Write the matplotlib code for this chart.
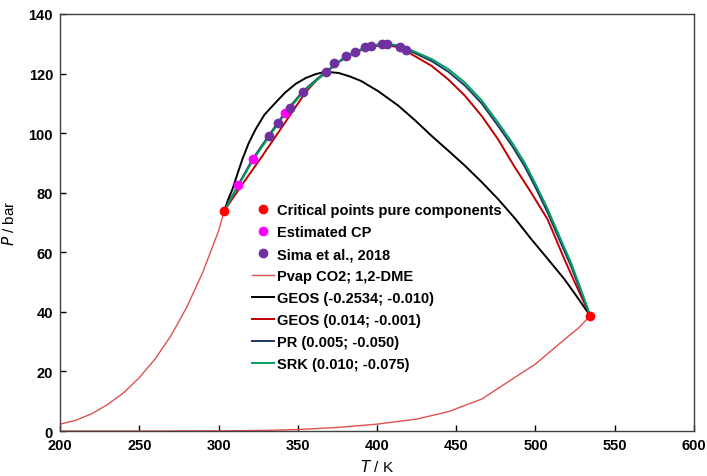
import matplotlib.pyplot as plt
from matplotlib.ticker import MultipleLocator

plt.rcParams['font.family'] = ['Liberation Sans', 'DejaVu Sans']

# critical points of the pure components (CO2, 1,2-DME)
crit_T = [303.6, 534.5]
crit_P = [73.95, 38.7]

# estimated critical points
est_T = [312.6, 321.8, 341.9]
est_P = [82.6, 91.3, 106.7]

# Sima et al., 2018
sima_T = [332.0, 337.5, 345.0, 353.0, 368.0, 373.0, 380.5, 386.0, 392.5, 396.0, 403.0, 406.5, 414.5, 418.0]
sima_P = [99.1, 103.4, 108.3, 113.7, 120.4, 123.5, 125.9, 127.3, 128.9, 129.2, 129.9, 129.9, 128.8, 128.0]

# vapour pressures
co2_T = [200, 210, 220, 230, 240, 250, 260, 270, 280, 290, 300, 303.6]
co2_P = [2.3, 3.6, 5.8, 8.9, 12.8, 17.9, 24.2, 32.0, 41.6, 53.2, 67.1, 73.95]
dme_T = [200, 250, 300, 330, 350, 375, 400, 425, 445, 466, 487, 500, 510, 520, 527, 534.5]
dme_P = [0, 0, 0.05, 0.2, 0.5, 1.2, 2.3, 4.0, 6.5, 10.7, 18.0, 22.5, 27.0, 31.5, 34.5, 38.7]

# GEOS (-0.2534; -0.010)
geos1_T = [303.6, 306, 308.8, 312, 315.1, 319, 323.5, 329, 336.1, 342, 348.6, 355, 361.2, 367.5, 375.8,
           383, 390, 401, 413.5, 424, 434.4, 445, 455.4, 466, 476.3, 487, 497.2, 508, 518.2, 526, 534.5]
geos1_P = [73.95, 77.6, 81.2, 86.4, 91.3, 96.6, 101.4, 106.2, 110.3, 113.6, 116.5, 118.5, 119.8, 120.6, 120.2,
           119.0, 117.5, 114.0, 109.2, 104.3, 99.1, 94.1, 89.1, 83.6, 77.9, 71.4, 64.5, 57.6, 51.0, 45.2, 38.7]

# GEOS (0.014; -0.001)
geos2_T = [303.6, 315, 327.7, 340, 354.9, 362, 368, 375, 385, 393, 400, 406, 412, 419.8,
           434.4, 445, 455.4, 466, 476.3, 487, 497.2, 507.7, 518.2, 526, 534.5]
geos2_P = [73.95, 82.8, 92.4, 102.0, 113.7, 117.8, 120.5, 123.6, 126.8, 128.5, 129.3, 129.5, 129.0, 127.1,
           122.6, 118.0, 112.6, 105.8, 98.0, 88.5, 80.1, 71.0, 57.7, 48.5, 38.7]

# PR and SRK
eos_T = [303.6, 312.6, 321.8, 332, 342, 353, 362, 368, 374, 380, 387, 394, 400, 406, 412, 420,
         434.4, 445, 455.4, 466, 476.3, 485, 493, 500, 507.7, 515, 522.3, 528, 534.5]
pr_P = [73.95, 82.8, 91.5, 99.4, 107.0, 113.9, 118.1, 120.7, 123.2, 125.7, 127.5, 128.9, 129.5, 129.7,
        129.3, 127.8, 124.2, 120.6, 116.0, 110.0, 102.5, 95.9, 89.0, 81.8, 73.3, 64.3, 55.5, 47.6, 38.7]
srk_P = [73.95, 82.4, 91.0, 98.9, 106.5, 113.5, 117.8, 120.4, 123.0, 125.6, 127.5, 129.0, 129.7, 129.9,
         129.6, 128.2, 124.9, 121.5, 117.0, 111.0, 103.6, 97.0, 90.2, 83.0, 74.5, 65.5, 56.6, 48.5, 38.7]

fig = plt.figure(figsize=(7.07, 4.77), dpi=100)
ax = fig.add_axes([0.0849, 0.0943, 0.8967, 0.8743])

ax.plot(co2_T, co2_P, color='#e05050', lw=1.0, label='Pvap CO2; 1,2-DME', zorder=2)
ax.plot(dme_T, dme_P, color='#e05050', lw=1.0, zorder=2)
ax.plot(geos1_T, geos1_P, color='black', lw=1.4, label='GEOS (-0.2534; -0.010)', zorder=3)
ax.plot(geos2_T, geos2_P, color='#c00000', lw=1.4, label='GEOS (0.014; -0.001)', zorder=3)
ax.plot(eos_T, pr_P, color='#1f3864', lw=1.4, label='PR (0.005; -0.050)', zorder=3)
ax.plot(eos_T, srk_P, color='#00a060', lw=1.4, label='SRK (0.010; -0.075)', zorder=3)

ax.plot(crit_T, crit_P, 'o', color='red', ms=6, ls='none', label='Critical points pure components', zorder=5)
ax.plot(est_T, est_P, 'o', color='#ff00ff', ms=6, ls='none', label='Estimated CP', zorder=5)
ax.plot(sima_T, sima_P, 'o', color='#7030a0', ms=6, ls='none', label='Sima et al., 2018', zorder=5)

ax.set_xlim(200, 600)
ax.set_ylim(0, 140)
ax.xaxis.set_major_locator(MultipleLocator(50))
ax.yaxis.set_major_locator(MultipleLocator(20))
ax.tick_params(direction='in', length=4, width=1, labelsize=10.5, pad=5)
for lab in ax.get_xticklabels() + ax.get_yticklabels():
    lab.set_fontweight('bold')
for s in ax.spines.values():
    s.set_color('#404040')
    s.set_linewidth(1.0)

ax.set_xlabel('$\\it{T}$ / K', fontsize=11, labelpad=4)
ax.set_ylabel('$\\it{P}$ / bar', fontsize=11, labelpad=8)

handles, labels = ax.get_legend_handles_labels()
order = [5, 6, 7, 0, 1, 2, 3, 4]
leg = ax.legend([handles[i] for i in order], [labels[i] for i in order],
                loc='upper left', bbox_to_anchor=(0.303, 0.546), frameon=False,
                fontsize=10.5, handlelength=1.5, handletextpad=0.2, labelspacing=0.55,
                borderpad=0, borderaxespad=0)
for t in leg.get_texts():
    t.set_fontweight('bold')

fig.savefig('out.png', dpi=100)
